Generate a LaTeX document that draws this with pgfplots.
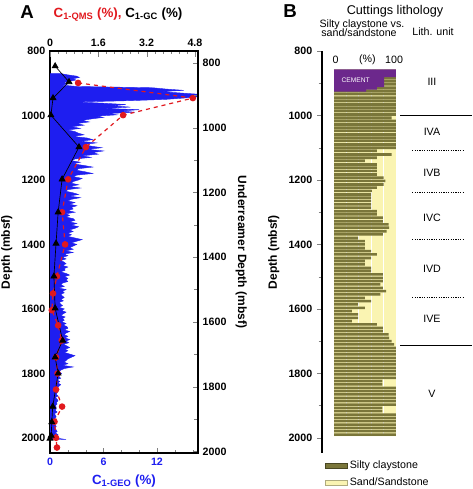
\documentclass[border=0pt]{standalone}
\usepackage{pgfplots}
\pgfplotsset{compat=1.18}
\usepackage{fontspec}
\setmainfont{Liberation Sans}
\definecolor{geoblue}{RGB}{30,30,240}
\definecolor{qmsred}{RGB}{225,25,30}
\definecolor{olivec}{RGB}{122,118,58}
\definecolor{sandc}{RGB}{250,244,178}
\definecolor{cementc}{RGB}{108,40,140}
\pgfplotsset{
  every axis/.append style={
    /pgf/number format/assume math mode=true,
    /pgf/number format/1000 sep={},
    tick label style={font=\fontsize{8}{9.6}\selectfont\bfseries},
    label style={font=\fontsize{9}{11}\selectfont\bfseries},
    scale only axis, width=111pt, height=301.5pt, anchor=north west,
  },
}
\begin{document}
\begin{tikzpicture}
\path[use as bounding box] (0,0) rectangle (354pt,-366.75pt);
% ---------------- Panel A: C1-GEO ----------------
\begin{axis}[
  at={(37.5pt,-38.25pt)},
  xmin=0, xmax=16.6, ymin=800, ymax=2047, y dir=reverse,
  xtick={0,6,12}, minor xtick={2,4,8,10,14,16},
  ytick={800,1000,...,2000}, minor ytick={900,1100,...,1900},
  xtick pos=left, ytick pos=left, tick align=inside,
  major tick length=3.75pt, minor tick length=2.2pt,
  xticklabel style={text=geoblue},
  xlabel={C\textsubscript{1-GEO} (\%)},
  xlabel style={text=geoblue, font=\fontsize{10}{12}\selectfont\bfseries},
  ylabel={Depth (mbsf)},
  axis line style={line width=0.8pt},
]
\addplot[geoblue, fill=geoblue, line width=0.3pt] coordinates {
(0,870)
(1.2,870) (2.0,874) (3.0,878) (3.3,882) (2.6,886) (2.9,890) (2.2,894) (1.5,898) (2.0,902) (1.4,906)
(3.0,910) (11.5,914) (13.0,918) (15.0,922) (12.5,926) (14.5,930) (16.6,934) (16.2,938) (16.6,942) (15.0,946)
(13.0,950) (9.0,954) (3.0,958) (6.0,962) (8.5,966) (7.0,970) (9.0,974) (6.0,978) (10.0,982) (8.0,986)
(9.5,990) (6.5,994) (7.5,998) (5.2,1002) (6.0,1006)
(4.8,1010) (3.6,1015) (4.4,1020) (3.0,1025) (3.8,1030) (2.4,1035) (3.4,1040) (2.0,1045) (2.8,1050) (3.2,1055)
(3.8,1060) (2.6,1065) (4.2,1070) (4.8,1075) (3.4,1080) (5.2,1085) (3.8,1090) (4.6,1095) (5.8,1100) (4.2,1105)
(6.0,1110) (4.8,1115) (5.4,1120) (3.6,1125) (4.6,1130) (2.8,1135) (2.4,1140) (3.4,1145) (2.6,1150) (3.8,1155)
(4.8,1160) (3.2,1165) (3.0,1170) (4.0,1175) (4.8,1180) (3.0,1185) (2.6,1190) (3.6,1195) (3.2,1200) (2.6,1205)
(2.4,1210) (3.2,1215) (2.2,1220) (3.4,1225) (2.0,1230) (1.8,1235) (2.6,1240) (3.2,1245) (2.2,1250) (3.4,1255)
(2.4,1260) (2.0,1265) (2.8,1270) (2.2,1275) (3.0,1280) (2.4,1285) (2.6,1290) (2.0,1295) (2.8,1300) (1.8,1305)
(2.2,1310) (1.8,1315) (2.6,1320) (2.8,1325) (2.2,1330) (3.0,1335) (2.4,1340) (3.2,1345) (2.8,1350) (2.2,1355)
(2.6,1360) (2.0,1365) (2.4,1370) (2.0,1375) (2.8,1380) (3.6,1385) (3.0,1390) (2.4,1395) (3.0,1400) (2.6,1405)
(2.2,1410) (2.6,1415) (1.8,1420) (2.6,1425) (1.6,1430) (2.0,1435) (1.4,1440) (1.8,1445) (1.2,1450) (1.6,1455)
(1.8,1460) (1.4,1465) (2.0,1470) (1.6,1475) (1.7,1480) (1.2,1485) (1.8,1490) (2.2,1495) (1.6,1500) (2.0,1505)
(1.8,1510) (2.0,1515) (1.4,1520) (1.2,1525) (1.6,1530) (1.0,1535) (1.8,1540) (1.4,1545) (1.6,1550) (1.2,1555)
(1.4,1560) (1.6,1565) (1.2,1570) (1.5,1575) (1.0,1580) (1.2,1585) (1.4,1590) (1.0,1595) (1.6,1600) (1.3,1605)
(1.8,1610) (1.5,1615) (1.2,1620) (1.7,1625) (1.4,1630) (1.6,1635) (1.3,1640) (1.8,1645) (1.5,1650) (1.9,1655)
(2.0,1660) (1.6,1665) (2.2,1670) (1.8,1675) (1.6,1680) (2.0,1685) (1.7,1690) (2.2,1695) (1.8,1700) (2.1,1705)
(1.5,1710) (1.9,1715) (2.2,1720) (1.7,1725) (2.0,1730) (1.6,1735) (2.2,1740) (2.8,1745) (2.4,1750) (2.0,1755)
(1.8,1760) (1.6,1765) (2.0,1770) (1.4,1775) (2.6,1780) (1.6,1785) (1.2,1790) (1.0,1795) (1.3,1800) (1.1,1805)
(1.0,1810) (1.2,1815) (0.8,1820) (1.1,1825) (0.9,1830) (1.2,1835) (1.0,1840) (0.8,1845) (1.0,1850) (0.9,1855)
(0.8,1860) (0.7,1865) (0.9,1870) (0.6,1875) (0.8,1880) (0.9,1885) (0.7,1890) (0.8,1895) (0.6,1900) (0.7,1905)
(0.7,1910) (0.6,1915) (0.8,1920) (0.5,1925) (0.6,1930) (0.7,1935) (0.5,1940) (0.7,1945) (0.6,1950) (0.5,1955)
(0.6,1960) (0.7,1965) (0.5,1970) (0.7,1975) (0.8,1980) (0.6,1985) (0.9,1990) (0.7,1995) (0.5,2000) (1.8,2005)
(0,2005) (0,870)
};
\end{axis}
% ---------------- Panel A: top axis (QMS, GC) ----------------
\begin{axis}[
  at={(37.5pt,-38.25pt)},
  xmin=0, xmax=4.9, ymin=800, ymax=2047, y dir=reverse,
  axis x line*=top, hide y axis,
  xtick={0,1.6,3.2,4.8}, minor x tick num=5, tick align=inside,
  major tick length=4.5pt, minor tick length=2.5pt, clip=false,
  axis line style={line width=0.8pt},
]
\addplot[qmsred, dashed, line width=0.9pt, mark=*, mark size=2pt, mark options={solid}] coordinates {
(0.93,899) (4.73,946) (2.42,999) (1.19,1098) (0.6,1198) (0.4,1300) (0.5,1400) (0.23,1499) (0.1,1552)
(0.06,1604) (0.27,1651) (0.39,1698) (0.2,1750) (0.25,1800) (0.2,1850) (0.4,1903) (0.15,1950) (0.2,2000) (0.23,2030)
};
\addplot[black, line width=0.5pt, mark=triangle*, mark size=2.6pt] coordinates {
(0.17,847) (0.63,896) (0.1,946) (0.03,999) (0.96,1098) (0.4,1198) (0.27,1300) (0.2,1397) (0.13,1499)
(0.17,1598) (0.42,1698) (0.17,1750) (0.27,1800) (0.09,1903) (0.06,1951) (0.04,1993) (0.0,2002)
};
\end{axis}
% ---------------- Panel A: right axis ----------------
\begin{axis}[
  at={(37.5pt,-38.25pt)},
  xmin=0, xmax=1, ymin=763, ymax=2005, y dir=reverse,
  hide x axis, axis y line*=right,
  ytick={800,1000,...,2000}, minor y tick num=1, tick align=inside,
  major tick length=3.75pt, minor tick length=3pt,
  ylabel={Underreamer Depth (mbsf)}, ylabel style={rotate=180},
  axis line style={line width=0.8pt},
]
\addplot[draw=none] coordinates {(0.5,1000)};
\end{axis}
% ---------------- Panel B ----------------
\begin{axis}[
  at={(241.5pt,-38.25pt)}, width=112.5pt,
  xmin=-19.35, xmax=222.6, ymin=800, ymax=2047, y dir=reverse,
  hide x axis, axis y line*=left,
  ytick={800,1000,...,2000}, minor ytick={900,1100,...,1900},
  tick align=outside, major tick length=3.75pt, minor tick length=2.5pt,
  ylabel={Depth (mbsf)}, clip=false,
  axis line style={line width=0.8pt},
  legend style={at={(0.02,-0.012)}, anchor=north west, draw=none, fill=none,
    font=\fontsize{8}{9}\selectfont, row sep=1.5pt, inner sep=0pt},
  legend cell align=left,
  legend image code/.code={\draw[#1] (0pt,-2pt) rectangle (16pt,2pt);},
]
\addplot[fill=sandc, draw=none, forget plot] coordinates {(0,857) (100,857) (100,1995) (0,1995) (0,857)};
\addplot[white, line width=0.5pt, forget plot] coordinates {(20,857) (20,1995)};
\addplot[white, line width=0.5pt, forget plot] coordinates {(40,857) (40,1995)};
\addplot[white, line width=0.5pt, forget plot] coordinates {(60,857) (60,1995)};
\addplot[white, line width=0.5pt, forget plot] coordinates {(80,857) (80,1995)};
\addplot[xbar, bar width=8, fill=olivec, draw=none, forget plot] coordinates {
(100,862) (100,872) (100,883) (100,893) (100,903) (100,914) (100,924) (100,934) (100,945) (100,955)
(100,966) (100,976) (100,986) (100,997) (93,1007) (100,1017) (100,1028) (100,1038) (100,1048) (100,1059)
(100,1069) (100,1079) (100,1090) (100,1100)
(69,1110) (93,1121) (69,1131) (50,1141) (69,1152) (69,1162) (69,1172) (69,1183) (80,1193) (83,1203)
(80,1214) (69,1224) (61,1234) (60,1245) (60,1255) (60,1265) (60,1276) (60,1286) (69,1297) (69,1307)
(79,1317) (79,1328) (88,1338) (89,1348) (85,1359) (79,1369) (39,1380) (50,1390) (50,1400) (50,1411)
(60,1421) (69,1431) (60,1442) (50,1452) (50,1462) (60,1473) (60,1483) (79,1493) (79,1504) (79,1514)
(75,1524) (79,1535) (84,1545) (75,1555) (50,1566) (60,1576) (39,1586) (50,1597) (29,1607) (39,1617)
(39,1628) (29,1638) (69,1648) (79,1659) (79,1669) (88,1679) (89,1690) (93,1700) (97,1710) (100,1721)
(100,1731) (100,1741) (100,1752) (100,1762) (100,1772) (100,1783) (100,1793) (100,1803) (100,1814) (78,1824)
(78,1834) (100,1845) (100,1855) (100,1865) (100,1876) (100,1886) (100,1897) (78,1907) (78,1917) (100,1928)
(100,1938) (100,1948) (100,1959) (100,1969) (100,1979) (100,1990)
};
\addplot[fill=cementc, draw=none, forget plot] coordinates {
(0,857) (100,857) (100,881) (81,881) (81,912) (69,912) (69,920) (52,920) (52,926) (0,926) (0,857)};
\node[text=white, font=\fontsize{5}{6}\selectfont] at (axis cs:35,890) {CEMENT};
\node[font=\fontsize{8}{9}\selectfont] at (axis cs:2.7,828) {0};
\node[font=\fontsize{8}{9}\selectfont] at (axis cs:54,828) {(\%)};
\node[font=\fontsize{8}{9}\selectfont] at (axis cs:97,828) {100};
% lithological units
\addplot[black, line width=0.6pt, forget plot] coordinates {(106.5,999) (222.6,999)};
\addplot[black, line width=0.6pt, forget plot] coordinates {(106.5,1713) (222.6,1713)};
\addplot[black, line width=0.5pt, dash pattern=on 1pt off 0.8pt, forget plot] coordinates {(126,1107) (211,1107)};
\addplot[black, line width=0.5pt, dash pattern=on 1pt off 0.8pt, forget plot] coordinates {(126,1238) (211,1238)};
\addplot[black, line width=0.5pt, dash pattern=on 1pt off 0.8pt, forget plot] coordinates {(126,1384) (211,1384)};
\addplot[black, line width=0.5pt, dash pattern=on 1pt off 0.8pt, forget plot] coordinates {(126,1564) (211,1564)};
\node[font=\fontsize{8}{9}\selectfont] at (axis cs:158,896) {III};
\node[font=\fontsize{8}{9}\selectfont] at (axis cs:158,1052) {IVA};
\node[font=\fontsize{8}{9}\selectfont] at (axis cs:158,1179) {IVB};
\node[font=\fontsize{8}{9}\selectfont] at (axis cs:158,1316) {IVC};
\node[font=\fontsize{8}{9}\selectfont] at (axis cs:158,1477) {IVD};
\node[font=\fontsize{8}{9}\selectfont] at (axis cs:158,1632) {IVE};
\node[font=\fontsize{8}{9}\selectfont] at (axis cs:158,1862) {V};
\addlegendimage{fill=olivec, draw=olivec!60!black}
\addlegendentry{Silty claystone}
\addlegendimage{fill=sandc, draw=sandc!70!black}
\addlegendentry{Sand/Sandstone}
\end{axis}
% ---------------- headers ----------------
\begin{scope}[x=0.75pt, y=-0.75pt]
\node[font=\fontsize{14}{16}\selectfont\bfseries] at (27,12) {A};
\node[font=\fontsize{10}{12}\selectfont\bfseries] at (118,15) {{\color{qmsred}C\textsubscript{1-QMS} (\%),} C\textsubscript{1-GC} (\%)};
\node[font=\fontsize{14}{16}\selectfont\bfseries] at (290,11) {B};
\node[font=\fontsize{9.5}{11}\selectfont] at (395,11) {Cuttings lithology};
\node[font=\fontsize{8}{9}\selectfont] at (362,25) {Silty claystone vs.};
\node[font=\fontsize{8}{9}\selectfont] at (359,33) {sand/sandstone};
\node[font=\fontsize{8}{9}\selectfont] at (433,32) {Lith. unit};
\end{scope}
\end{tikzpicture}
\end{document}
